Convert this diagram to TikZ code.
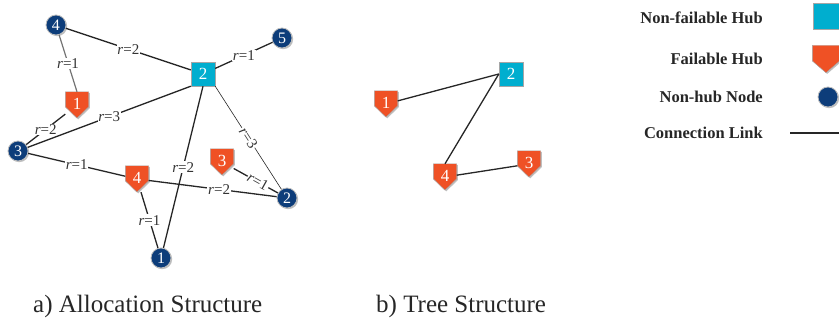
\documentclass[tikz,border=0pt]{standalone}
\usepackage{fontspec}
\setmainfont{Liberation Serif}
\usetikzlibrary{shadows}
\definecolor{hubc}{HTML}{00AECF}
\definecolor{failc}{HTML}{EF5125}
\definecolor{nodec}{HTML}{0D3D7A}
\makeatletter
\pgfdeclareshape{pentdown}{
  \inheritsavedanchors[from=rectangle]
  \inheritanchorborder[from=rectangle]
  \inheritanchor[from=rectangle]{center}
  \inheritanchor[from=rectangle]{north}
  \inheritanchor[from=rectangle]{south}
  \inheritanchor[from=rectangle]{east}
  \inheritanchor[from=rectangle]{west}
  \inheritanchor[from=rectangle]{north east}
  \inheritanchor[from=rectangle]{north west}
  \inheritanchor[from=rectangle]{south east}
  \inheritanchor[from=rectangle]{south west}
  \backgroundpath{
    \southwest \pgf@xa=\pgf@x \pgf@ya=\pgf@y
    \northeast \pgf@xb=\pgf@x \pgf@yb=\pgf@y
    \pgf@xc=.5\pgf@xa \advance\pgf@xc by .5\pgf@xb
    \pgf@yc=.43\pgf@yb \advance\pgf@yc by .57\pgf@ya
    \pgfpathmoveto{\pgfpoint{\pgf@xa}{\pgf@yb}}
    \pgfpathlineto{\pgfpoint{\pgf@xb}{\pgf@yb}}
    \pgfpathlineto{\pgfpoint{\pgf@xb}{\pgf@yc}}
    \pgfpathlineto{\pgfpoint{\pgf@xc}{\pgf@ya}}
    \pgfpathlineto{\pgfpoint{\pgf@xa}{\pgf@yc}}
    \pgfpathclose
  }
}
\makeatother
\newcommand{\up}[1]{\raisebox{2pt}{#1}}
\begin{document}
\begin{tikzpicture}[x=1pt,y=-1pt,
  shd/.style={drop shadow={shadow xshift=1.2pt,shadow yshift=-1.2pt,fill=black,opacity=0.25}},
  hub/.style={shd,rectangle,draw=black!35,line width=0.4pt,fill=hubc,minimum size=24pt,inner sep=0pt,text=white,font=\fontsize{17}{17}\selectfont},
  fhub/.style={shd,shape=pentdown,draw=black!35,line width=0.4pt,fill=failc,minimum width=23pt,minimum height=26pt,inner sep=0pt,text=white,font=\fontsize{17}{17}\selectfont},
  nh/.style={shd,circle,draw=black!25,line width=0.8pt,fill=nodec,minimum size=20pt,inner sep=0pt,text=white,font=\fontsize{16}{16}\selectfont},
  link/.style={line width=1.3pt,black!85},
  lbl/.style={fill=white,inner sep=0.8pt,font=\fontsize{15}{15}\selectfont,text=black!80},
  legtxt/.style={anchor=east,inner sep=0pt,font=\bfseries\fontsize{16.5}{16.5}\selectfont,text=black!85},
  captxt/.style={anchor=west,inner sep=0pt,font=\fontsize{25}{25}\selectfont,text=black!85}]
\useasboundingbox (0,0) rectangle (839,328);
% allocation structure
\node[nh] (a4) at (56,25) {4};
\node[nh] (a5) at (282,38) {5};
\node[hub] (H) at (203,74) {2};
\node[fhub] (f1) at (77,105) {\up{1}};
\node[nh] (a3) at (18,151) {3};
\node[fhub] (f4) at (137,179) {\up{4}};
\node[fhub] (f3) at (222,162) {\up{3}};
\node[nh] (a2) at (287,198) {2};
\node[nh] (a1) at (161,258) {1};
\draw[link] (a4) -- node[lbl]{\textit{r}=2} (H);
\draw[line width=1.2pt,black!55] (a4) -- node[lbl]{\textit{r}=1} (f1.north);
\draw[link] (H) -- node[lbl]{\textit{r}=1} (a5);
\draw[link] (f1) -- node[lbl]{\textit{r}=2} (a3);
\draw[link] (H.south west) -- node[lbl]{\textit{r}=3} (a3);
\draw[link] (H.south) -- node[lbl,pos=0.5]{\textit{r}=2} (a1);
\draw[line width=0.6pt,black!85] (H.south east) -- node[lbl,sloped,pos=0.5]{\textit{r}=3} (a2);
\draw[link] (a3) -- node[lbl]{\textit{r}=1} (f4);
\draw[link] (f4) -- node[lbl,pos=0.55]{\textit{r}=2} (a2);
\draw[link] (f3) -- node[lbl,sloped,pos=0.55]{\textit{r}=1} (a2);
\draw[link] (f4) -- node[lbl]{\textit{r}=1} (a1);
% tree structure
\node[hub] (Hb) at (511,74) {2};
\node[fhub] (f1b) at (386,104) {\up{1}};
\node[fhub] (f4b) at (445,177) {\up{4}};
\node[fhub] (f3b) at (529,164) {\up{3}};
\draw[link] (f1b) -- (Hb.west);
\draw[link] (f4b.north) -- (Hb.west);
\draw[link] (f4b) -- (f3b);
% legend
\node[legtxt] (t1) at (763,18) {Non-failable Hub};
\node[legtxt] (t2) at (763,59) {Failable Hub};
\node[legtxt] (t3) at (763,97) {Non-hub Node};
\node[legtxt] (t4) at (763,133) {Connection Link};
\node[hub,minimum size=26pt] (g1) at (826,16) {};
\node[fhub,minimum width=27pt,minimum height=27pt] (g2) at (826,59) {};
\node[nh,minimum size=20pt] (g3) at (828,97) {};
\coordinate (l1) at (790,133);
\coordinate (l2) at (839,133);
\draw[link] (l1) -- (l2);
% captions
\node[captxt] (c1) at (33,306) {a) Allocation Structure};
\node[captxt] (c2) at (376,306) {b) Tree Structure};
\end{tikzpicture}
\end{document}
